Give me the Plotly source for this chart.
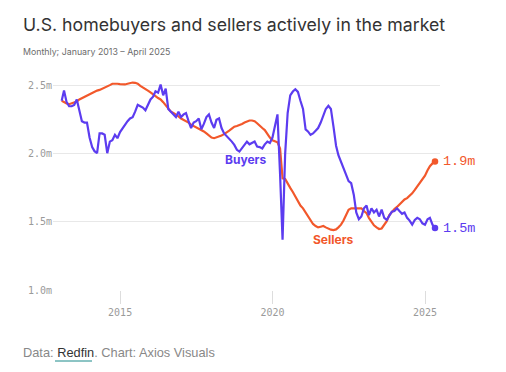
import pandas as pd
import plotly.graph_objects as go

# Monthly, Jan 2013 - Apr 2025 (values in millions)
months = pd.date_range("2013-01-31", periods=148, freq="ME")

buyers = [
    2.39, 2.465, 2.38, 2.35, 2.35, 2.36, 2.40, 2.32, 2.24, 2.23, 2.23, 2.12,
    2.05, 2.02, 2.005, 2.15, 2.15, 2.14, 2.005, 2.09, 2.10, 2.14, 2.115, 2.16,
    2.19, 2.21, 2.24, 2.26, 2.27, 2.31, 2.36, 2.35, 2.34, 2.32, 2.36, 2.40,
    2.42, 2.46, 2.45, 2.51, 2.43, 2.48, 2.33, 2.31, 2.29, 2.27, 2.31, 2.27,
    2.29, 2.30, 2.24, 2.19, 2.23, 2.24, 2.26, 2.18, 2.22, 2.27, 2.29, 2.23,
    2.19, 2.25, 2.26, 2.19, 2.15, 2.13, 2.115, 2.09, 2.066, 2.03, 2.017, 2.04,
    2.066, 2.09, 2.07, 2.08, 2.09, 2.054, 2.05, 2.04, 2.07, 2.09, 2.08, 2.12,
    2.20, 2.29, 1.85, 1.37, 2.00, 2.30, 2.43, 2.458, 2.475, 2.455, 2.39, 2.33,
    2.18, 2.165, 2.14, 2.15, 2.17, 2.19, 2.23, 2.29, 2.33, 2.353, 2.33, 2.20,
    2.06, 1.99, 1.94, 1.89, 1.85, 1.80, 1.785, 1.70, 1.57, 1.52, 1.54, 1.60,
    1.62, 1.55, 1.60, 1.57, 1.59, 1.54, 1.59, 1.53, 1.515, 1.55, 1.575, 1.58,
    1.60, 1.58, 1.56, 1.57, 1.53, 1.51, 1.48, 1.515, 1.53, 1.52, 1.49, 1.48,
    1.52, 1.53, 1.48, 1.455,
]

sellers = [
    2.39, 2.38, 2.37, 2.365, 2.37, 2.375, 2.385, 2.40, 2.41, 2.42, 2.43, 2.44,
    2.45, 2.458, 2.465, 2.47, 2.478, 2.485, 2.495, 2.505, 2.515, 2.517, 2.515, 2.513,
    2.512, 2.51, 2.515, 2.522, 2.524, 2.522, 2.515, 2.50, 2.49, 2.478, 2.465, 2.452,
    2.44, 2.425, 2.41, 2.40, 2.38, 2.355, 2.33, 2.31, 2.30, 2.29, 2.275, 2.26,
    2.25, 2.24, 2.23, 2.215, 2.205, 2.20, 2.19, 2.18, 2.165, 2.15, 2.135, 2.12,
    2.115, 2.12, 2.127, 2.135, 2.145, 2.155, 2.17, 2.185, 2.20, 2.205, 2.21, 2.22,
    2.23, 2.24, 2.245, 2.245, 2.24, 2.225, 2.205, 2.19, 2.175, 2.145, 2.12, 2.10,
    2.095, 2.085, 2.04, 1.82, 1.815, 1.78, 1.75, 1.72, 1.69, 1.655, 1.62, 1.60,
    1.57, 1.54, 1.51, 1.485, 1.47, 1.46, 1.465, 1.47, 1.46, 1.45, 1.443, 1.44,
    1.445, 1.46, 1.48, 1.51, 1.55, 1.59, 1.60, 1.60, 1.598, 1.60, 1.60, 1.58,
    1.565, 1.53, 1.50, 1.475, 1.46, 1.448, 1.452, 1.475, 1.505, 1.55, 1.575, 1.595,
    1.61, 1.63, 1.65, 1.665, 1.675, 1.69, 1.71, 1.735, 1.76, 1.785, 1.81, 1.84,
    1.88, 1.91, 1.93, 1.944,
]

y_ticks = [1.0, 1.5, 2.0, 2.5]
y_ticktext = ["1.0m", "1.5m", "2.0m", "2.5m"]
x_ticks = ["2015-01-01", "2020-01-01", "2025-01-01"]
x_ticktext = ["2015", "2020", "2025"]

PURPLE = "#5c3cf0"
ORANGE = "#f2582b"
MONO = "DejaVu Sans Mono"
MONO_LIGHT = "Liberation Mono"

W, H = 506, 372
L, R, T, B = 53, 66, 79, 82
PW, PH = W - L - R, H - T - B


def px_x(px):
    return (px - L) / PW


def px_y(py):
    return (H - B - py) / PH


fig = go.Figure()
fig.add_trace(go.Scatter(x=months, y=sellers, mode="lines",
                         line=dict(color=ORANGE, width=2.2), hoverinfo="skip"))
fig.add_trace(go.Scatter(x=months, y=buyers, mode="lines",
                         line=dict(color=PURPLE, width=2.2), hoverinfo="skip"))
# end dots
fig.add_trace(go.Scatter(x=[months[-1]], y=[sellers[-1]], mode="markers",
                         marker=dict(color=ORANGE, size=6.5), hoverinfo="skip"))
fig.add_trace(go.Scatter(x=[months[-1]], y=[buyers[-1]], mode="markers",
                         marker=dict(color=PURPLE, size=6.5), hoverinfo="skip"))

fig.add_annotation(x=months[-1], y=sellers[-1], xref="x", yref="y",
                   text=f"{sellers[-1]:.1f}m", showarrow=False, xanchor="left", xshift=6,
                   font=dict(family=MONO_LIGHT, size=13.5, color=ORANGE))
fig.add_annotation(x=months[-1], y=buyers[-1], xref="x", yref="y",
                   text=f"{buyers[-1]:.1f}m", showarrow=False, xanchor="left", xshift=6,
                   font=dict(family=MONO_LIGHT, size=13.5, color=PURPLE))
fig.add_annotation(x="2019-02-08", y=1.956, xref="x", yref="y", text="<b>Buyers</b>",
                   showarrow=False, font=dict(family="Inter", size=12, color=PURPLE))
fig.add_annotation(x="2022-01-04", y=1.368, xref="x", yref="y", text="<b>Sellers</b>",
                   showarrow=False, font=dict(family="Inter", size=12, color=ORANGE))

# title / subtitle / footer
fig.add_annotation(x=px_x(21), y=px_y(24), xref="paper", yref="paper",
                   text="U.S. homebuyers and sellers actively in the market",
                   showarrow=False, xanchor="left", yanchor="middle",
                   font=dict(family="Inter", size=17.7, color="#333333"))
fig.add_annotation(x=px_x(21), y=px_y(52), xref="paper", yref="paper",
                   text="Monthly; January 2013 – April 2025",
                   showarrow=False, xanchor="left", yanchor="middle",
                   font=dict(family="Inter", size=8.8, color="#6b6b6b"))
fig.add_annotation(x=px_x(21), y=px_y(353), xref="paper", yref="paper",
                   text="Data: <span style='color:#333333'>Redfin</span>. Chart: Axios Visuals",
                   showarrow=False, xanchor="left", yanchor="middle",
                   font=dict(family="Liberation Sans", size=12.8, color="#888888"))
fig.add_shape(type="line", xref="paper", yref="paper",
              x0=px_x(55), x1=px_x(92), y0=px_y(361), y1=px_y(361),
              line=dict(color="#1a8a8a", width=1))

fig.update_layout(
    width=W, height=H,
    margin=dict(l=L, r=R, t=T, b=B, autoexpand=False),
    paper_bgcolor="white", plot_bgcolor="white",
    showlegend=False, hovermode=False,
    xaxis=dict(range=["2012-10-19", "2025-06-29"], showgrid=False, zeroline=False,
               showline=False, tickvals=x_ticks, ticktext=x_ticktext, automargin=False,
               ticks="outside", ticklen=13, tickcolor="#dddddd", tickwidth=1,
               tickfont=dict(family=MONO, size=10, color="#9a9a9a")),
    yaxis=dict(range=[1.0, 2.55], showgrid=True, gridcolor="#e8e8e8", gridwidth=1,
               zeroline=False, showline=False, tickvals=y_ticks, ticktext=y_ticktext,
               ticks="", automargin=False,
               tickfont=dict(family=MONO, size=10, color="#9a9a9a")),
)

fig.write_html("out.html", config={"displayModeBar": False},
               post_script="document.body.style.margin='0';")
